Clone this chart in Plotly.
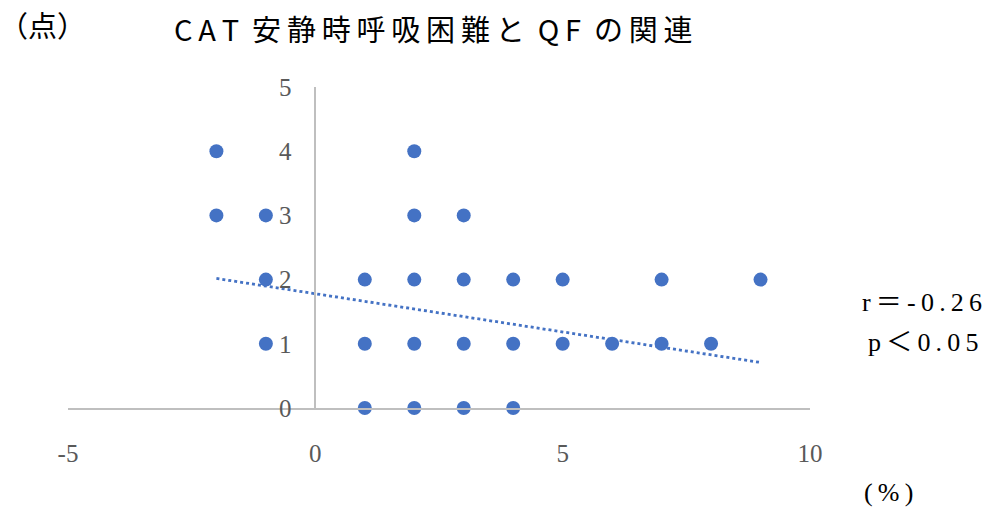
import plotly.graph_objects as go

# QF (%) vs CAT resting dyspnea score (points)
qf_pct = [-2, -2, -1, -1, -1, 1, 1, 1, 2, 2, 2, 2, 2, 3, 3, 3, 3, 4, 4, 4, 5, 5, 6, 7, 7, 8, 9]
cat_score = [4, 3, 3, 2, 1, 2, 1, 0, 4, 3, 2, 1, 0, 3, 2, 1, 0, 2, 1, 0, 2, 1, 1, 2, 1, 1, 2]

# linear trend line
trend_x = [-2, 9]
trend_slope = -0.119
trend_intercept = 1.78

x_ticks = [-5, 0, 5, 10]
y_ticks = [0, 1, 2, 3, 4, 5]

BLUE = "#4472C4"
GRAY_TXT = "#595959"
AXIS = "#BFBFBF"
SERIF = "Liberation Serif"
CJK = "Noto Sans CJK JP"
TS = "\u2009"  # thin space used for letter spacing

fig = go.Figure()

fig.add_trace(go.Scatter(
    x=trend_x,
    y=[trend_slope * v + trend_intercept for v in trend_x],
    mode="lines",
    line=dict(color=BLUE, width=2.8, dash="dot"),
    hoverinfo="skip",
    cliponaxis=False,
))

fig.add_trace(go.Scatter(
    x=qf_pct, y=cat_score, mode="markers",
    marker=dict(color=BLUE, size=14, line=dict(width=0)),
    cliponaxis=False,
))

fig.update_layout(
    width=1000, height=509,
    margin=dict(l=68, r=190, t=87, b=101),
    paper_bgcolor="white", plot_bgcolor="white",
    showlegend=False,
    xaxis=dict(
        range=[-5, 10], tickvals=x_ticks, ticktext=[str(v) for v in x_ticks],
        showgrid=False, zeroline=False,
        showline=True, linecolor=AXIS, linewidth=1.5,
        ticks="", ticklabelstandoff=22,
        tickfont=dict(family=SERIF, size=25, color=GRAY_TXT),
    ),
    yaxis=dict(
        range=[0, 5], tickvals=y_ticks, ticktext=[str(v) for v in y_ticks],
        showgrid=False, zeroline=False,
        showline=True, linecolor=AXIS, linewidth=1.5,
        anchor="free", position=1 / 3,
        ticks="", ticklabelstandoff=18,
        tickfont=dict(family=SERIF, size=25, color=GRAY_TXT),
    ),
)

title = TS.join("CAT") + "  " + TS.join("安静時呼吸困難と") + "  " + TS.join("QF") + "  " + TS.join("の関連")
fig.add_annotation(
    xref="paper", yref="paper", x=(172 - 68) / 742, y=1 + (87 - 28) / 321,
    xanchor="left", yanchor="middle", showarrow=False,
    text=title, font=dict(family=CJK, size=29, color="#000000"),
)
fig.add_annotation(
    xref="paper", yref="paper", x=(-3 - 68) / 742, y=1 + (87 - 24) / 321,
    xanchor="left", yanchor="middle", showarrow=False,
    text="（点）", font=dict(family=CJK, size=29, color="#000000"),
)
fig.add_annotation(
    xref="paper", yref="paper", x=(860 - 68) / 742, y=(408 - 302) / 321,
    xanchor="left", yanchor="middle", showarrow=False,
    text="r" + TS + "＝" + TS + TS.join("-0.26"),
    font=dict(family=SERIF + ", " + CJK, size=26, color="#000000"),
)
fig.add_annotation(
    xref="paper", yref="paper", x=(866 - 68) / 742, y=(408 - 342) / 321,
    xanchor="left", yanchor="middle", showarrow=False,
    text="p" + TS + "＜" + TS + TS.join("0.05"),
    font=dict(family=SERIF + ", " + CJK, size=26, color="#000000"),
)
fig.add_annotation(
    xref="paper", yref="paper", x=(862 - 68) / 742, y=-(492 - 408) / 321,
    xanchor="left", yanchor="middle", showarrow=False,
    text="(" + TS + "%" + TS + ")", font=dict(family=SERIF, size=26, color="#000000"),
)

fig.write_html("out.html")
